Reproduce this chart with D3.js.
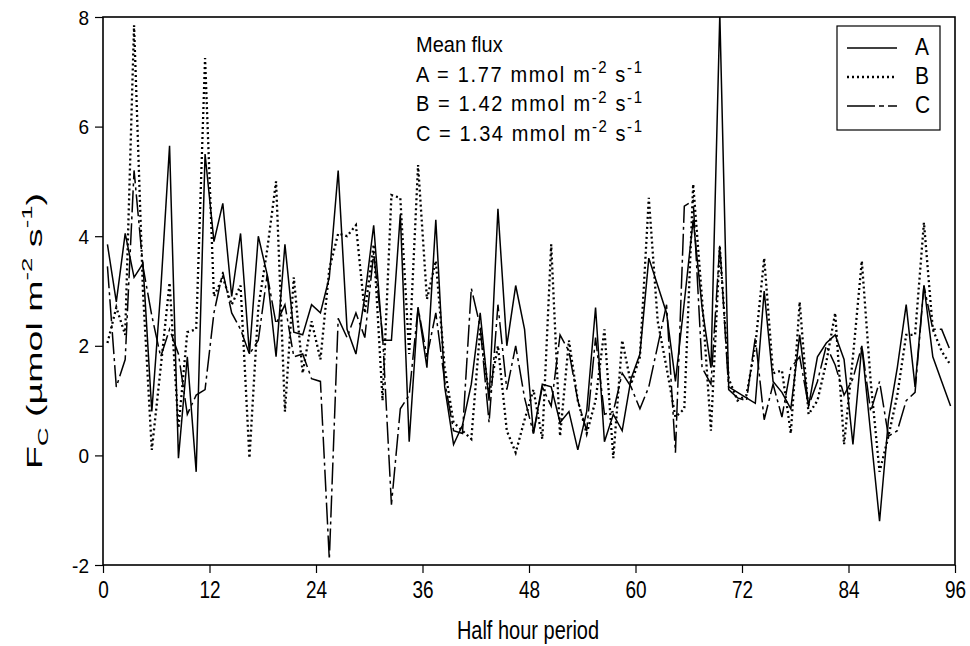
<!DOCTYPE html>
<html><head><meta charset="utf-8">
<script src="https://cdn.jsdelivr.net/npm/d3@7"></script>
<style>
body{margin:0;background:#fff}
svg text{font-family:"Liberation Sans",Arial,Helvetica,sans-serif;fill:#000}
</style>
</head><body>
<svg id="chart" width="970" height="646"></svg>
<script>
// ---- data ----
const periods = d3.range(0.5, 96, 1); // half-hour period centres
const seriesA = [3.85,2.8,4.05,3.25,3.5,0.8,3.0,5.65,-0.05,1.8,-0.3,5.5,3.9,4.6,2.9,4.05,
  1.85,4.0,3.3,1.8,3.85,2.25,2.2,2.75,2.6,3.25,5.2,2.3,1.85,2.9,4.2,2.1,
  2.1,4.4,0.25,2.7,1.6,4.3,1.25,0.2,0.55,1.3,2.6,1.0,4.5,2.0,3.1,2.3,
  0.4,1.3,1.25,0.6,0.8,0.1,0.8,2.7,0.25,0.75,0.45,1.4,1.85,3.6,3.1,2.6,
  1.35,2.8,4.3,2.7,1.6,8.05,1.25,1.15,1.05,0.95,3.0,1.35,1.15,0.85,2.2,0.9,
  1.8,2.05,2.2,1.75,0.2,2.0,0.4,-1.2,0.65,1.6,2.75,1.25,3.1,1.8,1.35,0.9];
const seriesB = [2.05,2.7,2.2,7.85,3.0,0.1,1.6,3.15,0.5,2.25,2.3,7.25,2.9,3.25,2.75,3.1,
  -0.05,2.7,3.75,5.0,0.8,3.25,1.5,2.45,1.75,3.4,4.05,4.0,4.2,2.6,3.85,1.0,
  4.75,4.7,1.85,5.3,2.85,3.55,1.6,0.6,0.45,0.3,2.3,1.1,2.0,0.45,0.05,0.65,
  1.2,0.3,3.85,0.35,2.1,1.0,0.4,1.0,2.3,-0.05,2.1,1.3,1.8,4.7,2.45,1.6,
  0.7,0.85,4.95,2.85,0.45,3.8,1.4,1.0,1.1,2.0,3.6,1.5,1.55,0.4,2.8,0.75,
  1.0,1.7,2.6,0.2,1.8,3.55,1.35,-0.3,0.35,1.1,2.2,2.2,4.25,2.3,1.9,1.65];
const seriesC = [3.45,1.25,1.75,5.2,3.45,2.55,1.8,2.3,1.85,0.75,1.1,1.2,2.6,3.35,2.6,2.3,
  1.85,2.1,3.3,2.4,2.75,1.8,1.85,1.4,1.35,-1.9,2.5,2.15,2.6,2.15,3.7,2.2,
  -0.9,0.85,1.1,2.7,1.8,2.6,1.35,0.45,0.4,3.05,2.35,0.6,2.75,1.2,2.0,1.05,
  0.4,1.25,0.9,2.2,1.9,1.0,0.45,2.15,0.75,0.8,1.5,1.25,0.85,1.25,2.0,2.75,
  0.05,4.55,4.65,1.6,1.3,3.85,1.2,1.05,1.0,2.15,0.65,1.3,0.7,1.6,1.8,0.9,
  1.35,2.0,1.65,1.1,1.4,2.0,0.8,1.35,0.35,0.45,1.0,1.15,3.1,2.3,2.3,1.9];
const seriesNames = ["A","B","C"];
const meanFlux = ["1.77","1.42","1.34"];
const xTicks = [0,12,24,36,48,60,72,84,96];
const yTicks = [-2,0,2,4,6,8];

// ---- layout ----
const svg = d3.select("#chart");
const L = 103, R = 955, T = 17, B = 565;
const x = d3.scaleLinear().domain([0,96]).range([L,R]);
const y = d3.scaleLinear().domain([-2,8]).range([B,T]);

const styles = {
  A: {dash: null, width: 1.5},
  B: {dash: "2,3", width: 2.3},
  C: {dash: "22,4,3,4", width: 1.5}
};

svg.append("clipPath").attr("id","clip").append("rect")
  .attr("x",L).attr("y",T).attr("width",R-L).attr("height",B-T);

const line = d3.line().x((d,i)=>x(periods[i])).y(d=>y(d));
const data = {A: seriesA, B: seriesB, C: seriesC};
seriesNames.forEach(n=>{
  svg.append("path").datum(data[n])
    .attr("clip-path","url(#clip)")
    .attr("fill","none").attr("stroke","#000")
    .attr("stroke-width",styles[n].width)
    .attr("stroke-dasharray",styles[n].dash)
    .attr("d",line);
});

// frame
svg.append("rect").attr("x",L).attr("y",T).attr("width",R-L).attr("height",B-T)
  .attr("fill","none").attr("stroke","#000").attr("stroke-width",1.6);

function stretch(sel, y0, s){ // stretch text vertically about baseline y0
  sel.attr("transform",`translate(0,${y0}) scale(1,${s}) translate(0,${-y0})`);
}

// axes
const xAxis = svg.append("g").attr("transform",`translate(0,${B})`)
  .call(d3.axisBottom(x).tickValues(xTicks).tickSize(8).tickPadding(9).tickSizeOuter(0)
    .tickFormat(d=>String(d)));
xAxis.select(".domain").remove();
xAxis.selectAll("line").attr("stroke","#000").attr("stroke-width",1.2);
xAxis.selectAll("text").attr("font-size","19px").attr("dy",null).attr("y",33)
  .style("font-family","'Liberation Sans Narrow','Arial Narrow','Liberation Sans',sans-serif")
  .each(function(){ stretch(d3.select(this), 33, 1.3); });

const yAxis = svg.append("g").attr("transform",`translate(${L},0)`)
  .call(d3.axisLeft(y).tickValues(yTicks).tickSize(8).tickPadding(6).tickSizeOuter(0)
    .tickFormat(d=>String(d)));
yAxis.select(".domain").remove();
yAxis.selectAll("line").attr("stroke","#000").attr("stroke-width",1.2);
yAxis.selectAll("text").attr("font-size","19px").attr("dy",null).attr("y",7)
  .each(function(){ stretch(d3.select(this), 7, 1.1); });

// x label
const xl = svg.append("text").attr("x",528).attr("y",639).attr("text-anchor","middle")
  .attr("font-size","20px")
  .style("font-family","'Liberation Sans Narrow','Arial Narrow','Liberation Sans',sans-serif")
  .text("Half hour period");
stretch(xl, 639, 1.25);

// y label
const yl = svg.append("text").attr("transform","translate(42,331) rotate(-90)")
  .attr("text-anchor","middle").attr("font-size","22px")
  .attr("textLength",276).attr("lengthAdjust","spacingAndGlyphs");
yl.append("tspan").text("F");
yl.append("tspan").attr("font-size","15px").attr("dy",6).text("C");
yl.append("tspan").attr("dy",-6).text(" (\u00B5mol m");
yl.append("tspan").attr("font-size","15px").attr("dy",-10).text("-2");
yl.append("tspan").attr("dy",10).text(" s");
yl.append("tspan").attr("font-size","15px").attr("dy",-10).text("-1");
yl.append("tspan").attr("dy",10).text(")");

// annotation
const ann = svg.append("g").attr("font-size","20px");
const mt = ann.append("text").attr("x",416).attr("y",52).text("Mean flux");
stretch(mt, 52, 1.1);
seriesNames.forEach((n,i)=>{
  const yy = 82 + i*29.5;
  const t = ann.append("text").attr("x",416).attr("y",yy)
    .attr("textLength",226).attr("lengthAdjust","spacing");
  t.append("tspan").text(`${n} = ${meanFlux[i]} mmol m`);
  t.append("tspan").attr("font-size","15px").attr("dy",-8).text("-2");
  t.append("tspan").attr("dy",8).text(" s");
  t.append("tspan").attr("font-size","15px").attr("dy",-8).text("-1");
  stretch(t, yy, 1.1);
});

// legend
const lg = svg.append("g");
lg.append("rect").attr("x",837).attr("y",26).attr("width",103).attr("height",104)
  .attr("fill","#fff").attr("stroke","#000").attr("stroke-width",1.2);
seriesNames.forEach((n,i)=>{
  const yy = 48 + i*29;
  lg.append("line").attr("x1",847).attr("x2",897).attr("y1",yy).attr("y2",yy)
    .attr("stroke","#000").attr("stroke-width",styles[n].width)
    .attr("stroke-dasharray", n==="C" ? "28,4,5,4" : styles[n].dash);
  const t = lg.append("text").attr("x",915).attr("y",yy+7).attr("font-size","21px").text(n);
  stretch(t, yy+7, 1.15);
});
</script>
</body></html>
